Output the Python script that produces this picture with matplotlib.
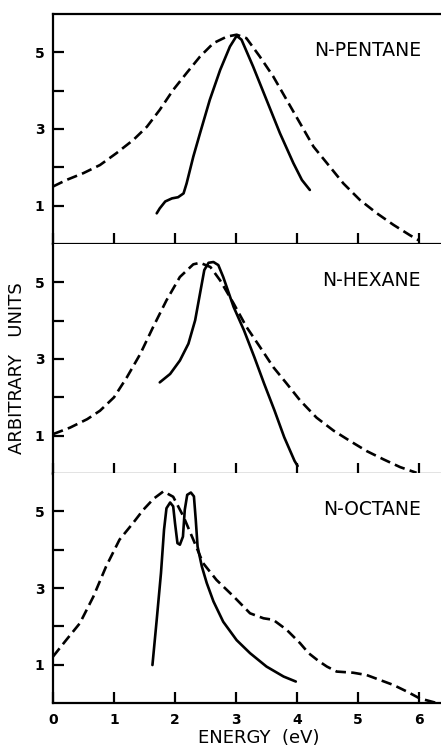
import numpy as np
import matplotlib
matplotlib.use("Agg")
import matplotlib.pyplot as plt

# values (energy in eV, arbitrary units)
names = ["N-PENTANE", "N-HEXANE", "N-OCTANE"]

pent_dash_x = [0.0, 0.22, 0.50, 0.77, 1.04, 1.32, 1.54, 1.75, 1.97, 2.19, 2.41, 2.63, 2.85, 3.01,
               3.17, 3.39, 3.61, 3.83, 4.05, 4.27, 4.49, 4.76, 5.03, 5.31, 5.58, 5.85, 5.99]
pent_dash_y = [1.50, 1.67, 1.85, 2.06, 2.37, 2.72, 3.06, 3.50, 4.02, 4.46, 4.89, 5.24, 5.41, 5.46,
               5.37, 4.89, 4.37, 3.76, 3.15, 2.54, 2.11, 1.58, 1.15, 0.80, 0.50, 0.23, 0.10]
pent_solid_x = [1.70, 1.75, 1.84, 1.95, 2.05, 2.14, 2.19, 2.30, 2.41, 2.57, 2.74, 2.90, 3.01,
                3.09, 3.28, 3.50, 3.72, 3.94, 4.08, 4.21]
pent_solid_y = [0.80, 0.93, 1.11, 1.19, 1.22, 1.32, 1.58, 2.28, 2.89, 3.76, 4.54, 5.15, 5.43,
                5.33, 4.63, 3.76, 2.89, 2.11, 1.67, 1.41]

hex_dash_x = [0.0, 0.28, 0.56, 0.77, 1.00, 1.21, 1.43, 1.64, 1.86, 2.08, 2.30, 2.41, 2.58, 2.74,
              2.96, 3.17, 3.39, 3.61, 3.83, 4.05, 4.32, 4.60, 4.87, 5.14, 5.42, 5.69, 5.96]
hex_dash_y = [1.04, 1.21, 1.43, 1.65, 2.00, 2.52, 3.13, 3.83, 4.53, 5.14, 5.47, 5.51, 5.40, 5.05,
              4.45, 3.84, 3.32, 2.79, 2.36, 1.92, 1.47, 1.13, 0.86, 0.60, 0.38, 0.18, 0.03]
hex_solid_x = [1.75, 1.92, 2.08, 2.22, 2.33, 2.41, 2.48, 2.55, 2.63, 2.71, 2.79, 2.96, 3.13,
               3.30, 3.46, 3.63, 3.79, 3.96, 4.01]
hex_solid_y = [2.39, 2.61, 2.96, 3.40, 4.01, 4.71, 5.32, 5.51, 5.53, 5.45, 5.14, 4.36, 3.75,
               3.05, 2.36, 1.66, 0.96, 0.34, 0.21]

oct_dash_x = [0.0, 0.22, 0.44, 0.66, 0.87, 1.09, 1.31, 1.48, 1.65, 1.81, 1.97, 2.14, 2.30, 2.46,
              2.68, 2.96, 3.23, 3.45, 3.61, 3.83, 4.05, 4.19, 4.35, 4.49, 4.65, 4.92, 5.14, 5.36,
              5.58, 5.80, 6.01, 6.29]
oct_dash_y = [1.21, 1.65, 2.08, 2.77, 3.56, 4.26, 4.69, 5.04, 5.33, 5.52, 5.38, 4.86, 4.26, 3.65,
              3.21, 2.78, 2.34, 2.21, 2.17, 1.91, 1.56, 1.30, 1.10, 0.95, 0.82, 0.79, 0.73, 0.60,
              0.47, 0.30, 0.12, 0.0]
oct_solid_x = [1.63, 1.70, 1.77, 1.82, 1.86, 1.92, 1.97, 2.00, 2.04, 2.08, 2.13, 2.16, 2.20, 2.26,
               2.31, 2.34, 2.37, 2.44, 2.52, 2.63, 2.79, 3.01, 3.23, 3.50, 3.78, 3.98]
oct_solid_y = [0.99, 2.17, 3.39, 4.52, 5.08, 5.23, 5.13, 4.69, 4.17, 4.13, 4.34, 5.04, 5.43, 5.49,
               5.39, 4.78, 4.08, 3.56, 3.13, 2.65, 2.12, 1.64, 1.30, 0.95, 0.69, 0.56]

dash_x = [pent_dash_x, hex_dash_x, oct_dash_x]
dash_y = [pent_dash_y, hex_dash_y, oct_dash_y]
solid_x = [pent_solid_x, hex_solid_x, oct_solid_x]
solid_y = [pent_solid_y, hex_solid_y, oct_solid_y]

xticks = [0, 1, 2, 3, 4, 5, 6]
yticks = [1, 2, 3, 4, 5]
ylabels = ["1", "", "3", "", "5"]

fig = plt.figure(figsize=(4.41, 7.47), dpi=100)
left, width = 53 / 441, 1 - 53 / 441
tops = [14, 244, 473]
h = 230

for i in range(3):
    bottom = 1 - (tops[i] + h) / 747
    ax = fig.add_axes([left, bottom, width, h / 747])
    ax.plot(dash_x[i], dash_y[i], color="black", lw=1.9, ls=(0, (4, 2)),
            dash_joinstyle="round", dash_capstyle="butt")
    ax.plot(solid_x[i], solid_y[i], color="black", lw=1.9,
            solid_joinstyle="round", solid_capstyle="round")
    ax.set_xlim(0, 6.36)
    ax.set_ylim(0, 6)
    ax.spines["right"].set_visible(False)
    ax.spines["top"].set_visible(i == 0)
    for s in ["left", "bottom", "top"]:
        ax.spines[s].set_linewidth(1.6)
    ax.set_xticks(xticks)
    ax.set_yticks(yticks)
    ax.set_yticklabels(ylabels, fontsize=10, fontweight="bold")
    ax.tick_params(direction="in", length=8, width=1.6, pad=6)
    ax.tick_params(axis="x", pad=7)
    if i < 2:
        ax.set_xticklabels([])
    else:
        ax.set_xticklabels([str(t) for t in xticks], fontsize=10, fontweight="bold")
    ax.text(6.03, 5.05, names[i], ha="right", va="center", fontsize=13.5)

fig.text(259 / 441, 1 - 738 / 747, "ENERGY  (eV)", ha="center", va="center", fontsize=13)
fig.text(17 / 441, 1 - 368 / 747, "ARBITRARY   UNITS", ha="center", va="center",
         rotation=90, fontsize=13)

fig.savefig("out.png", dpi=100)
